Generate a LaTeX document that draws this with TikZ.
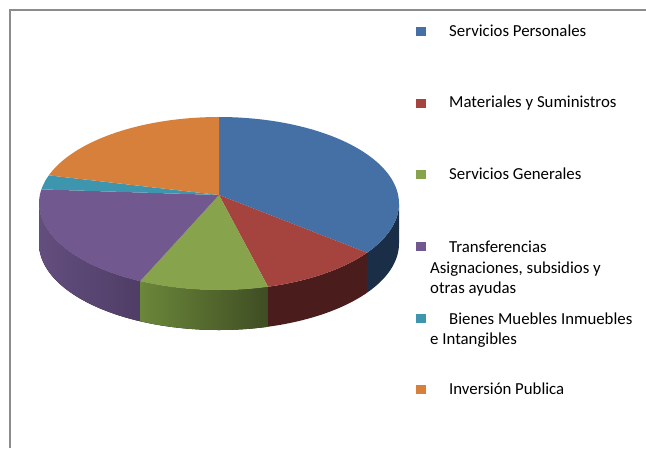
\documentclass[tikz,border=0pt]{standalone}
\usepackage{fontspec}
\setmainfont{Carlito}
\definecolor{frameline}{HTML}{8C8C8C}
\definecolor{persblue}{HTML}{4470A6}
\definecolor{persside}{HTML}{1B2E47}
\definecolor{matred}{HTML}{A5433F}
\definecolor{matside}{HTML}{4A1C1B}
\definecolor{gengreen}{HTML}{87A34B}
\definecolor{genleft}{HTML}{6B873A}
\definecolor{genright}{HTML}{3F4D23}
\definecolor{transpurple}{HTML}{71588F}
\definecolor{transleft}{HTML}{634E7E}
\definecolor{transright}{HTML}{4F3D66}
\definecolor{bienteal}{HTML}{3E96AE}
\definecolor{invorange}{HTML}{D7803C}
\tikzset{
  legkey/.style={minimum width=10pt,minimum height=9pt,inner sep=0pt},
  legtext/.style={anchor=west,inner sep=0pt,align=left,font=\fontsize{16.8}{20.5}\selectfont},
}
\begin{document}
\begin{tikzpicture}[x=1pt,y=-1pt,samples=60]
\useasboundingbox (0,0) rectangle (646,448);
\draw[color=frameline,line width=1.3pt] (10,448) -- (10,10) -- (646,10);
\coordinate (apex) at (219,195);
% sides of the pie
\fill[left color=transleft,right color=transright] plot[domain=180:244] ({219+180*cos(\x)},{203.5-86.5*sin(\x)}) -- plot[domain=244:180] ({219+180*cos(\x)},{243.5-86.5*sin(\x)}) -- cycle;
\fill[left color=genleft,right color=genright] plot[domain=244:285.8] ({219+180*cos(\x)},{203.5-86.5*sin(\x)}) -- plot[domain=285.8:244] ({219+180*cos(\x)},{243.5-86.5*sin(\x)}) -- cycle;
\fill[color=matside] plot[domain=285.8:325.3] ({219+180*cos(\x)},{203.5-86.5*sin(\x)}) -- plot[domain=325.3:285.8] ({219+180*cos(\x)},{243.5-86.5*sin(\x)}) -- cycle;
\fill[color=persside] plot[domain=325.3:360] ({219+180*cos(\x)},{203.5-86.5*sin(\x)}) -- plot[domain=360:325.3] ({219+180*cos(\x)},{243.5-86.5*sin(\x)}) -- cycle;
% top of the pie
\fill[color=persblue] (apex) -- plot[domain=90:-34.7] ({219+180*cos(\x)},{203.5-86.5*sin(\x)}) -- cycle;
\fill[color=matred] (apex) -- plot[domain=-34.7:-74.2] ({219+180*cos(\x)},{203.5-86.5*sin(\x)}) -- cycle;
\fill[color=gengreen] (apex) -- plot[domain=-74.2:-116] ({219+180*cos(\x)},{203.5-86.5*sin(\x)}) -- cycle;
\fill[color=transpurple] (apex) -- plot[domain=-116:-189.4] ({219+180*cos(\x)},{203.5-86.5*sin(\x)}) -- cycle;
\fill[color=bienteal] (apex) -- plot[domain=170.6:161] ({219+180*cos(\x)},{203.5-86.5*sin(\x)}) -- cycle;
\fill[color=invorange] (apex) -- plot[domain=161:90] ({219+180*cos(\x)},{203.5-86.5*sin(\x)}) -- cycle;
% legend
\node[legkey,fill=persblue] (keypers) at (421,31) {};
\node[legtext] (labpers) at (430,31) {\hspace*{19pt}Servicios Personales};
\node[legkey,fill=matred] (keymat) at (421,103) {};
\node[legtext] (labmat) at (430,103) {\hspace*{19pt}Materiales y Suministros};
\node[legkey,fill=gengreen] (keygen) at (421,174) {};
\node[legtext] (labgen) at (430,174) {\hspace*{19pt}Servicios Generales};
\node[legkey,fill=transpurple] (keytrans) at (421,246) {};
\node[legtext] (labtrans) at (430,269) {\hspace*{19pt}Transferencias\\Asignaciones, subsidios y\\otras ayudas};
\node[legkey,fill=bienteal] (keybien) at (421,318) {};
\node[legtext] (labbien) at (430,330) {\hspace*{19pt}Bienes Muebles Inmuebles\\e Intangibles};
\node[legkey,fill=invorange] (keyinv) at (421,389) {};
\node[legtext] (labinv) at (430,389) {\hspace*{19pt}Inversión Publica};
\end{tikzpicture}
\end{document}
